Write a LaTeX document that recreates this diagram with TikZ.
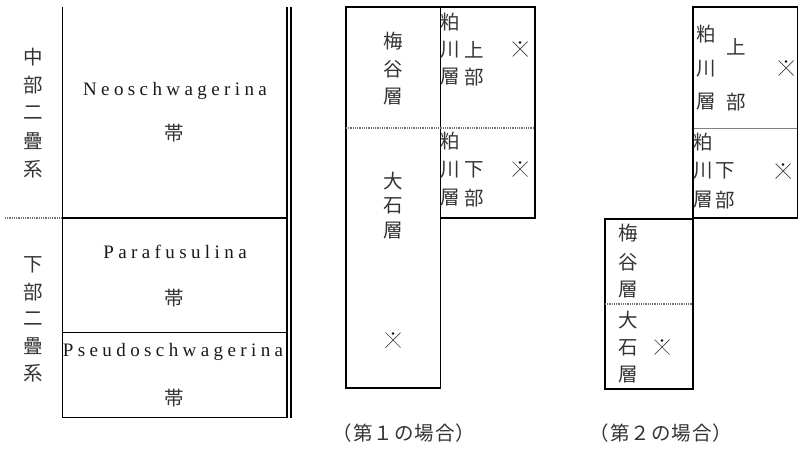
\documentclass[tikz,border=0pt]{standalone}
\usepackage{fontspec}
\setmainfont{Liberation Serif}
\newfontfamily\cjk{Noto Sans CJK JP}
\newcommand\lsk{\kern4.4pt}
\def\spc#1{\spcaux#1\relax}
\def\spcaux#1{\ifx#1\relax\unkern\else#1\lsk\expandafter\spcaux\fi}
\newcommand\ck{\kern1pt}
\tikzset{
  cj/.style={font=\cjk\fontsize{19.5}{22}\selectfont, text=black!80, inner sep=0pt, anchor=center},
  captext/.style={font=\cjk\fontsize{19.5}{22}\selectfont, text=black!80, inner sep=0pt},
  lat/.style={font=\fontsize{19}{22}\selectfont, text=black!90, inner sep=0pt, anchor=base},
  boxline/.style={line width=1.8pt, black},
  dotline/.style={line width=1.5pt, black!55, dash pattern=on 1pt off 0.8pt},
  fossil/.pic={\draw[line width=0.7pt, black!75] (-7.5,-7.5) -- (7.5,7.5) (-7.5,7.5) -- (7.5,-7.5); \fill[black] (0,-6.5) circle (1.4);}
}
\begin{document}
\begin{tikzpicture}[x=1pt,y=-1pt]
\useasboundingbox (0,0) rectangle (800,450);
% ---------- left chart ----------
\draw[boxline] (62.5,7) -- (62.5,418);
\draw[boxline] (62.5,218) -- (287,218);
\draw[boxline] (62.5,332.5) -- (287,332.5);
\draw[boxline] (62.5,417.5) -- (287,417.5);
\draw[line width=1.5pt] (287,7) -- (287,418);
\draw[line width=1.5pt] (291,7) -- (291,418);
\draw[dotline] (5,218) -- (61.5,218);
% left labels
\node[cj] (a1) at (33,57) {中};
\node[cj] (a2) at (33,85) {部};
\node[cj] (a3) at (33,113) {二};
\node[cj] (a4) at (33,141) {疊};
\node[cj] (a5) at (33,169) {系};
\node[cj] (b1) at (33,265) {下};
\node[cj] (b2) at (33,292) {部};
\node[cj] (b3) at (33,319) {二};
\node[cj] (b4) at (33,346) {疊};
\node[cj] (b5) at (33,373) {系};
% zones
\node[lat] (neo) at (175,95) {\spc{Neoschwagerina}};
\node[cj] (neoz) at (174,133.5) {帯};
\node[lat] (para) at (175,258) {\spc{Parafusulina}};
\node[cj] (paraz) at (174,298) {帯};
\node[lat] (pseudo) at (173,356) {\spc{Pseudoschwagerina}};
\node[cj] (pseudoz) at (174,398) {帯};
% ---------- middle chart (case 1) ----------
\draw[boxline] (346,7) rectangle (440.5,388);
\draw[boxline] (440.5,7) -- (535,7) -- (535,218) -- (440.5,218);
\draw[dotline] (346,128) -- (535,128);
\node[cj] (m1) at (393,41) {梅};
\node[cj] (m2) at (393,69) {谷};
\node[cj] (m3) at (393,97) {層};
\node[cj] (m4) at (393,181) {大};
\node[cj] (m5) at (393,206) {石};
\node[cj] (m6) at (393,231) {層};
\pic at (393,340) {fossil};
\node[cj] (u1) at (450,22) {粕};
\node[cj] (u2) at (450,50) {川};
\node[cj] (u3) at (474,50) {上};
\node[cj] (u4) at (450,77) {層};
\node[cj] (u5) at (474,77) {部};
\pic at (520,49) {fossil};
\node[cj] (l1) at (450,141) {粕};
\node[cj] (l2) at (450,170) {川};
\node[cj] (l3) at (474,170) {下};
\node[cj] (l4) at (450,198) {層};
\node[cj] (l5) at (474,198) {部};
\pic at (520,169) {fossil};
\node[captext] (cap1) at (404,433) {（\ck 第\ck １\ck の\ck 場\ck 合\ck ）};
% ---------- right chart (case 2) ----------
\draw[boxline] (693,7) rectangle (797.5,218);
\draw[boxline] (605,219) rectangle (693,389);
\draw[line width=1pt, black!50] (694,128) -- (797,128);
\draw[dotline] (605,304) -- (693,304);
\node[cj] (r1) at (706,34) {粕};
\node[cj] (r2) at (736,47) {上};
\node[cj] (r3) at (706,69) {川};
\node[cj] (r4) at (706,102) {層};
\node[cj] (r5) at (736,102) {部};
\pic at (786,68) {fossil};
\node[cj] (s1) at (703,142) {粕};
\node[cj] (s2) at (703,171) {川};
\node[cj] (s3) at (725,171) {下};
\node[cj] (s4) at (703,200) {層};
\node[cj] (s5) at (725,200) {部};
\pic at (783,171) {fossil};
\node[cj] (t1) at (628,233) {梅};
\node[cj] (t2) at (628,262) {谷};
\node[cj] (t3) at (628,290) {層};
\node[cj] (t4) at (628,320) {大};
\node[cj] (t5) at (628,348) {石};
\node[cj] (t6) at (628,375) {層};
\pic at (662,347) {fossil};
\node[captext] (cap2) at (661,433) {（\ck 第\ck ２\ck の\ck 場\ck 合\ck ）};
\end{tikzpicture}
\end{document}
